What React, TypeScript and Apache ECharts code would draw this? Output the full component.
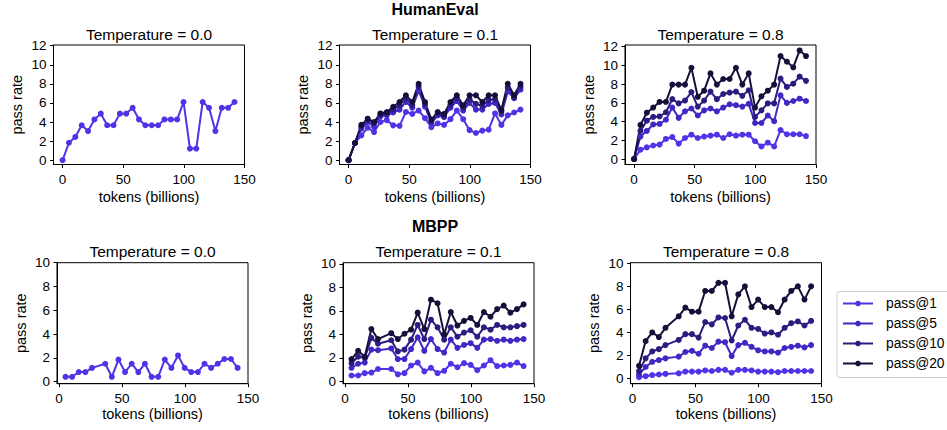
import React, { useEffect, useRef } from "react";
import * as echarts from "echarts";

// ---------- data ----------
const tokensHE = [0, 5.25, 10.5, 15.75, 21, 26.25, 31.5, 36.75, 42, 47.25, 52.5, 57.75, 63, 68.25, 73.5, 78.75, 84, 89.25, 94.5, 99.75, 105, 110.25, 115.5, 120.75, 126, 131.25, 136.5, 141.75];
const tokensMBPP = [5.25, 10.5, 15.75, 21, 26.25, 36.75, 42, 47.25, 52.5, 57.75, 63, 68.25, 73.5, 78.75, 84, 89.25, 94.5, 99.75, 105, 110.25, 115.5, 120.75, 126, 131.25, 136.5, 141.75];

const xTicks = [0, 50, 100, 150];
const yTicksHE = [0, 2, 4, 6, 8, 10, 12];
const yTicksMBPP = [0, 2, 4, 6, 8, 10];

const seriesNames = ["pass@1", "pass@5", "pass@10", "pass@20"];

// HumanEval, T = 0.0
const he00_p1 = [0, 1.83, 2.44, 3.66, 3.05, 4.27, 4.88, 3.66, 3.66, 4.88, 4.88, 5.49, 4.27, 3.66, 3.66, 3.66, 4.27, 4.27, 4.27, 6.1, 1.22, 1.22, 6.1, 5.49, 3.05, 5.49, 5.49, 6.1];

// HumanEval, T = 0.1
const he01_p1 = [0, 1.8, 2.6, 3.4, 2.95, 4.0, 4.2, 3.65, 3.6, 5.05, 4.85, 5.2, 4.4, 3.45, 3.85, 3.7, 4.3, 5.2, 4.3, 3.15, 2.85, 3.1, 3.2, 4.9, 3.7, 4.7, 5.0, 5.3];
const he01_p5 = [0, 1.8, 3.3, 4.0, 3.5, 4.6, 4.7, 5.0, 5.3, 6.1, 5.5, 7.3, 5.6, 3.9, 4.7, 4.5, 5.5, 6.2, 5.2, 6.0, 5.3, 5.3, 5.9, 6.0, 4.8, 7.2, 6.5, 7.4];
const he01_p10 = [0, 1.8, 3.55, 4.2, 3.9, 4.8, 4.9, 5.3, 5.8, 6.5, 5.8, 7.7, 5.9, 4.1, 4.9, 4.65, 5.8, 6.5, 5.5, 6.4, 5.9, 5.7, 6.3, 6.4, 5.1, 7.6, 6.6, 7.7];
const he01_p20 = [0, 1.8, 3.7, 4.35, 4.0, 4.9, 5.05, 5.6, 6.1, 6.8, 6.1, 8.0, 6.1, 4.25, 5.05, 4.85, 6.1, 6.8, 5.75, 6.8, 6.8, 6.1, 6.8, 6.8, 5.25, 8.0, 6.8, 8.0];

// HumanEval, T = 0.8
const he08_p1 = [0, 1.0, 1.25, 1.45, 1.55, 2.15, 2.35, 1.65, 2.25, 2.6, 2.25, 2.4, 2.5, 2.6, 2.25, 2.65, 2.5, 2.6, 2.6, 1.9, 1.35, 1.75, 1.35, 3.1, 2.65, 2.65, 2.65, 2.45];
const he08_p5 = [0, 2.4, 3.0, 3.7, 3.75, 4.2, 5.5, 4.4, 5.1, 5.4, 4.65, 5.2, 5.4, 5.1, 5.5, 5.85, 5.75, 5.6, 5.9, 3.85, 3.85, 4.65, 4.05, 6.8, 6.0, 6.2, 6.45, 6.2];
const he08_p10 = [0, 3.0, 4.1, 4.5, 4.55, 5.0, 6.4, 5.95, 6.25, 7.15, 5.6, 6.25, 7.2, 6.4, 6.95, 7.1, 7.2, 6.75, 7.35, 4.5, 5.2, 5.95, 5.95, 8.6, 7.7, 8.05, 8.8, 8.35];
const he08_p20 = [0, 3.65, 4.95, 5.5, 6.1, 6.1, 7.95, 7.95, 7.95, 9.75, 6.65, 7.3, 9.15, 7.95, 8.55, 8.55, 9.75, 7.95, 9.15, 5.5, 6.7, 7.3, 7.95, 11.0, 10.4, 9.8, 11.6, 11.0];

// MBPP, T = 0.0
const mb00_p1 = [0.4, 0.4, 0.8, 0.8, 1.15, 1.5, 0.4, 1.85, 0.8, 1.5, 0.8, 1.5, 0.4, 0.4, 1.85, 1.15, 2.2, 1.15, 0.8, 0.8, 1.5, 1.15, 1.5, 1.9, 1.9, 1.15];

// MBPP, T = 0.1
const mb01_p1 = [0.5, 0.5, 0.7, 0.75, 1.05, 1.05, 0.6, 0.7, 1.35, 1.6, 0.85, 1.15, 0.7, 0.9, 1.5, 1.2, 1.55, 1.4, 0.95, 1.35, 1.8, 1.3, 1.35, 1.4, 1.6, 1.3];
const mb01_p5 = [1.15, 1.5, 1.6, 2.7, 2.65, 2.8, 1.9, 1.9, 2.75, 3.75, 2.6, 3.6, 2.75, 2.45, 3.55, 2.85, 3.1, 3.25, 2.85, 3.55, 3.6, 3.45, 3.55, 3.45, 3.55, 3.6];
const mb01_p10 = [1.55, 2.1, 2.0, 3.7, 3.2, 3.5, 2.55, 2.7, 3.55, 4.8, 3.6, 5.25, 4.6, 3.55, 4.6, 3.8, 4.15, 4.35, 3.8, 4.6, 4.4, 4.8, 4.6, 4.6, 4.7, 4.8];
const mb01_p20 = [1.9, 2.6, 2.1, 4.45, 3.6, 4.1, 3.6, 4.05, 4.4, 5.85, 4.45, 6.95, 6.65, 4.0, 5.9, 4.75, 5.15, 5.4, 4.8, 5.9, 5.5, 6.15, 6.45, 5.85, 6.15, 6.55];

// MBPP, T = 0.8
const mb08_p1 = [0.12, 0.2, 0.3, 0.35, 0.4, 0.45, 0.6, 0.6, 0.6, 0.7, 0.65, 0.75, 0.75, 0.5, 0.75, 0.75, 0.7, 0.6, 0.6, 0.6, 0.55, 0.65, 0.65, 0.65, 0.65, 0.65];
const mb08_p5 = [0.35, 1.0, 1.45, 1.6, 1.75, 1.9, 2.3, 2.4, 2.15, 2.85, 2.65, 3.2, 3.15, 1.95, 2.9, 3.1, 2.75, 2.45, 2.35, 2.35, 2.25, 2.65, 2.75, 2.85, 2.7, 2.9];
const mb08_p10 = [0.65, 1.75, 2.35, 2.55, 2.9, 3.35, 3.85, 3.85, 3.55, 4.9, 4.7, 5.3, 5.25, 3.3, 4.6, 5.1, 4.4, 4.3, 3.9, 4.0, 3.8, 4.4, 4.8, 4.95, 4.6, 5.0];
const mb08_p20 = [1.1, 3.25, 4.0, 3.6, 4.4, 5.4, 6.15, 5.8, 5.8, 7.6, 7.6, 8.3, 8.3, 5.4, 7.3, 8.0, 6.2, 6.85, 6.2, 6.2, 5.75, 6.85, 7.6, 8.0, 6.85, 8.0];

// ---------- styles ----------
const COLORS: Record<string, string> = {
  "pass@1": "#5133e6",
  "pass@5": "#4128c4",
  "pass@10": "#2b1c80",
  "pass@20": "#170f3a",
};
const FONT = "'Liberation Sans', Arial, Helvetica, sans-serif";

type Panel = {
  left: number; top: number; width: number; height: number;
  xMin: number; xMax: number; yMin: number; yMax: number;
  yTicks: number[]; title: string; tokens: number[];
  lines: [string, number[]][];
};

const panels: Panel[] = [
  { left: 53.5, top: 45, width: 191, height: 119.5, xMin: -7.5, xMax: 150, yMin: -0.45, yMax: 12.07, yTicks: yTicksHE, title: "Temperature = 0.0", tokens: tokensHE,
    lines: [["pass@1", he00_p1]] },
  { left: 339.5, top: 45, width: 191, height: 119.5, xMin: -7.5, xMax: 150, yMin: -0.45, yMax: 12.07, yTicks: yTicksHE, title: "Temperature = 0.1", tokens: tokensHE,
    lines: [["pass@1", he01_p1], ["pass@5", he01_p5], ["pass@10", he01_p10], ["pass@20", he01_p20]] },
  { left: 625, top: 45, width: 191, height: 119.5, xMin: -7.5, xMax: 150, yMin: -0.58, yMax: 12.18, yTicks: yTicksHE, title: "Temperature = 0.8", tokens: tokensHE,
    lines: [["pass@1", he08_p1], ["pass@5", he08_p5], ["pass@10", he08_p10], ["pass@20", he08_p20]] },
  { left: 57, top: 262.7, width: 191, height: 121, xMin: -1.5, xMax: 150, yMin: -0.18, yMax: 10.0, yTicks: yTicksMBPP, title: "Temperature = 0.0", tokens: tokensMBPP,
    lines: [["pass@1", mb00_p1]] },
  { left: 343, top: 262.7, width: 191, height: 121, xMin: -1.5, xMax: 150, yMin: -0.2, yMax: 10.1, yTicks: yTicksMBPP, title: "Temperature = 0.1", tokens: tokensMBPP,
    lines: [["pass@1", mb01_p1], ["pass@5", mb01_p5], ["pass@10", mb01_p10], ["pass@20", mb01_p20]] },
  { left: 630.5, top: 262.7, width: 191, height: 121, xMin: -1.5, xMax: 150, yMin: -0.45, yMax: 10.05, yTicks: yTicksMBPP, title: "Temperature = 0.8", tokens: tokensMBPP,
    lines: [["pass@1", mb08_p1], ["pass@5", mb08_p5], ["pass@10", mb08_p10], ["pass@20", mb08_p20]] },
];

function buildOption() {
  const grid = panels.map((p) => ({
    left: p.left, top: p.top, width: p.width, height: p.height,
    show: true, borderColor: "#000", borderWidth: 1, backgroundColor: "transparent",
    containLabel: false,
  }));
  const xAxis = panels.map((p, i) => ({
    type: "value", gridIndex: i, min: p.xMin, max: p.xMax,
    name: "tokens (billions)", nameLocation: "middle", nameGap: i < 3 ? 25 : 23,
    nameTextStyle: { fontSize: 14.5, color: "#000", fontFamily: FONT },
    axisLine: { show: true, onZero: false, lineStyle: { color: "#000", width: 1 } },
    axisTick: { show: true, length: 3.5, customValues: xTicks, lineStyle: { color: "#000", width: 1 } },
    axisLabel: { customValues: xTicks, fontSize: 13.5, color: "#000", margin: 8, fontFamily: FONT },
    splitLine: { show: false },
  }));
  const yAxis = panels.map((p, i) => ({
    type: "value", gridIndex: i, min: p.yMin, max: p.yMax,
    name: "pass rate", nameLocation: "middle", nameGap: 29, nameRotate: 90,
    nameTextStyle: { fontSize: 14.5, color: "#000", fontFamily: FONT },
    axisLine: { show: true, onZero: false, lineStyle: { color: "#000", width: 1 } },
    axisTick: { show: true, length: 3.5, customValues: p.yTicks, lineStyle: { color: "#000", width: 1 } },
    axisLabel: { customValues: p.yTicks, fontSize: 13.5, color: "#000", margin: 7, fontFamily: FONT },
    splitLine: { show: false },
  }));
  const series: any[] = [];
  panels.forEach((p, i) => {
    p.lines.forEach(([name, vals]) => {
      series.push({
        type: "line", name, xAxisIndex: i, yAxisIndex: i,
        data: p.tokens.map((t, k) => [t, vals[k]]),
        symbol: "circle", symbolSize: 6, showSymbol: true,
        lineStyle: { width: 2, color: COLORS[name] },
        itemStyle: { color: COLORS[name] },
        emphasis: { disabled: true },
      });
    });
  });
  const title: any[] = [
    { text: "HumanEval", left: 435, top: 1.5, textAlign: "center", padding: 0,
      textStyle: { fontSize: 16, fontWeight: "bold", color: "#000", fontFamily: FONT } },
    { text: "MBPP", left: 435, top: 218.5, textAlign: "center", padding: 0,
      textStyle: { fontSize: 16, fontWeight: "bold", color: "#000", fontFamily: FONT } },
  ];
  panels.forEach((p, i) => {
    title.push({
      text: p.title, left: p.left + p.width / 2, top: i < 3 ? 26 : 243.5, textAlign: "center", padding: 0,
      textStyle: { fontSize: 15.5, fontWeight: "normal", color: "#000", fontFamily: FONT },
    });
  });
  return {
    animation: false,
    backgroundColor: "#fff",
    textStyle: { fontFamily: FONT },
    title,
    legend: {
      data: seriesNames,
      orient: "vertical",
      left: 837, top: 291.5,
      itemWidth: 30, itemHeight: 7, itemGap: 6,
      padding: [5, 6, 7, 5],
      borderColor: "#cccccc", borderWidth: 1, borderRadius: 3,
      backgroundColor: "#fff",
      selectedMode: false,
      textStyle: { fontSize: 13.8, color: "#000", lineHeight: 14, padding: [0, 0, 0, 8], fontFamily: FONT },
    },
    grid, xAxis, yAxis, series,
  };
}

export default function App() {
  const ref = useRef<HTMLDivElement>(null);
  useEffect(() => {
    document.body.style.margin = "0";
    if (!ref.current) return;
    const chart = echarts.init(ref.current, undefined, { renderer: "svg" });
    chart.setOption(buildOption() as any);
    return () => chart.dispose();
  }, []);
  return <div ref={ref} style={{ position: "fixed", left: 0, top: 0, width: 947, height: 430 }} />;
}
